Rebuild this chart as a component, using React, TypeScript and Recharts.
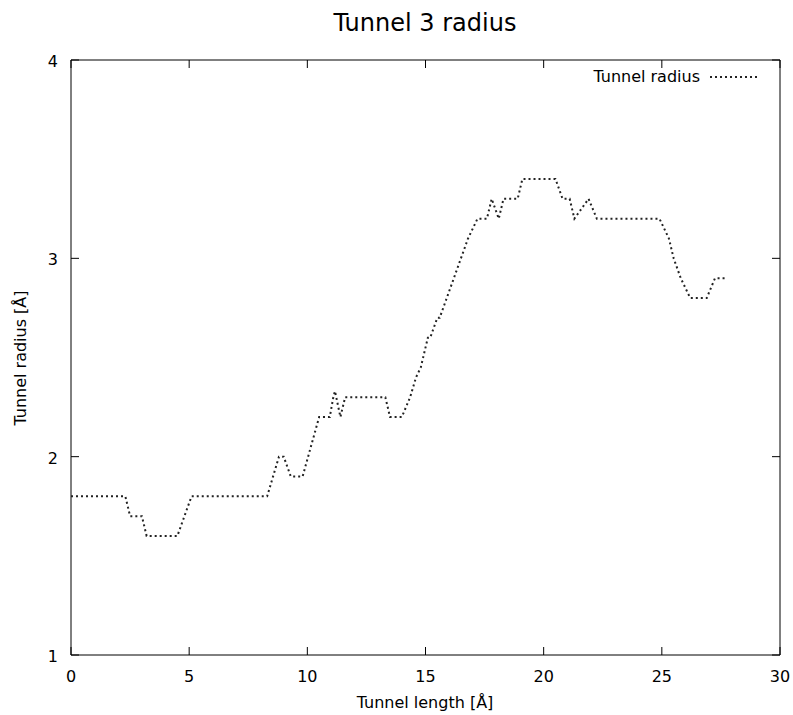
import React from "react"
import { LineChart, Line, XAxis, YAxis, ReferenceArea } from "recharts"

// tunnel profile vertices: length along the tunnel (Å) and radius (Å)
const lengths = [
  0, 2.3, 2.5, 3.0, 3.2, 4.5, 4.8, 5.1, 8.3, 8.8, 9.0, 9.3, 9.8, 10.5, 10.95, 11.1, 11.17, 11.4,
  11.6, 13.3, 13.5, 14.0, 14.35, 14.6, 14.8, 15.1, 15.2, 15.5, 15.6, 15.9, 16.2, 16.5, 16.8, 17.2,
  17.6, 17.8, 18.1, 18.3, 18.9, 19.1, 20.5, 20.8, 21.1, 21.3, 21.9, 22.25, 24.9, 25.3, 25.5, 25.8,
  26.2, 26.9, 27.25, 27.7,
]
const radii = [
  1.8, 1.8, 1.7, 1.7, 1.6, 1.6, 1.7, 1.8, 1.8, 2.0, 2.0, 1.9, 1.9, 2.2, 2.2, 2.3, 2.33, 2.2,
  2.3, 2.3, 2.2, 2.2, 2.3, 2.4, 2.45, 2.6, 2.6, 2.7, 2.7, 2.8, 2.9, 3.0, 3.1, 3.2,
  3.2, 3.3, 3.2, 3.3, 3.3, 3.4, 3.4, 3.3, 3.3, 3.2, 3.3, 3.2, 3.2, 3.1, 3.0, 2.9,
  2.8, 2.8, 2.9, 2.9,
]
const xTicks = [0, 5, 10, 15, 20, 25, 30]
const yTicks = [1, 2, 3, 4]

const data = lengths.map((x, i) => ({ x, r: radii[i] }))

// body margin is removed so chart coordinates equal page coordinates
const W = 793
const H = 715
const TOP = 60
const RIGHT = 13
const LEFT = 71
const BOTTOM = 60
const FONT = "'DejaVu Sans', sans-serif"

function XTick(props: any) {
  const { x, y, payload } = props
  return (
    <g>
      <line x1={x} y1={y} x2={x} y2={y - 8} stroke="#000" />
      <line x1={x} y1={TOP} x2={x} y2={TOP + 8} stroke="#000" />
      <text x={x} y={y + 27} textAnchor="middle" fontSize={16} fontFamily={FONT} fill="#000">
        {payload.value}
      </text>
    </g>
  )
}

function YTick(props: any) {
  const { x, y, payload } = props
  return (
    <g>
      <line x1={x} y1={y} x2={x + 8} y2={y} stroke="#000" />
      <line x1={W - RIGHT} y1={y} x2={W - RIGHT - 8} y2={y} stroke="#000" />
      <text x={x - 13} y={y + 7} textAnchor="end" fontSize={16} fontFamily={FONT} fill="#000">
        {payload.value}
      </text>
    </g>
  )
}

export default function App() {
  return (
    <div style={{ position: "relative", width: W, height: H, fontFamily: FONT, color: "#000" }}>
      <style>{"body { margin: 0; }"}</style>
      <LineChart width={W} height={H} data={data} margin={{ top: TOP, right: RIGHT, left: 0, bottom: 0 }}>
        <XAxis
          dataKey="x"
          type="number"
          domain={[0, 30]}
          ticks={xTicks}
          height={BOTTOM}
          axisLine={false}
          tickLine={false}
          tickSize={0}
          tickMargin={0}
          tick={<XTick />}
        />
        <YAxis
          type="number"
          domain={[1, 4]}
          ticks={yTicks}
          width={LEFT}
          axisLine={false}
          tickLine={false}
          tickSize={0}
          tickMargin={0}
          tick={<YTick />}
        />
        <ReferenceArea x1={0} x2={30} y1={1} y2={4} fill="none" stroke="#000" strokeWidth={1} />
        <Line
          type="linear"
          dataKey="r"
          stroke="#222"
          strokeWidth={2}
          strokeDasharray="2 3"
          dot={false}
          isAnimationActive={false}
        />
      </LineChart>

      <div style={{ position: "absolute", left: 125, width: 600, top: 9, textAlign: "center", fontSize: 24, lineHeight: "28px" }}>
        Tunnel 3 radius
      </div>
      <div style={{ position: "absolute", left: 125, width: 600, top: 694, textAlign: "center", fontSize: 16, lineHeight: "18px" }}>
        Tunnel length [Å]
      </div>
      <div
        style={{
          position: "absolute",
          left: 21,
          top: 358,
          fontSize: 16,
          lineHeight: "18px",
          whiteSpace: "nowrap",
          transform: "translate(-50%, -50%) rotate(-90deg)",
        }}
      >
        Tunnel radius [Å]
      </div>
      <div style={{ position: "absolute", right: W - 700, top: 68, fontSize: 16, lineHeight: "18px", whiteSpace: "nowrap" }}>
        Tunnel radius
      </div>
      <svg style={{ position: "absolute", left: 710, top: 72 }} width={50} height={10}>
        <line x1={0} y1={5} x2={48} y2={5} stroke="#222" strokeWidth={2} strokeDasharray="2 3" />
      </svg>
    </div>
  )
}
